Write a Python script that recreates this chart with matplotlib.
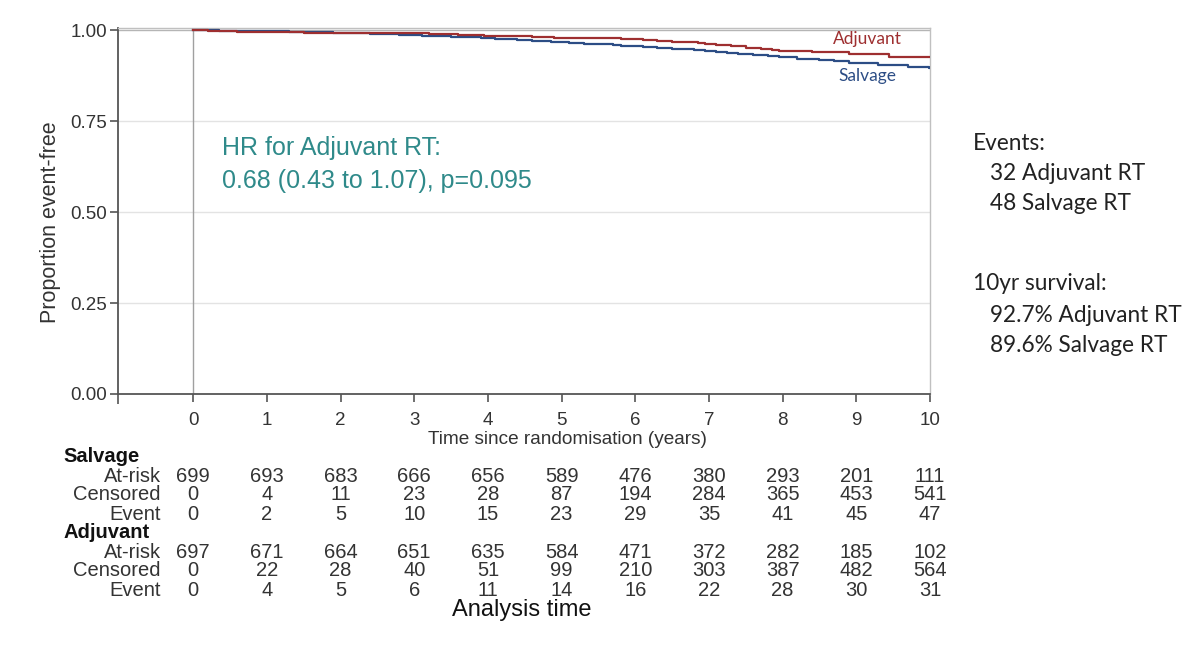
import matplotlib
matplotlib.use("Agg")
import matplotlib.pyplot as plt
from matplotlib.transforms import blended_transform_factory

# ---------------- data ----------------
years = [0, 1, 2, 3, 4, 5, 6, 7, 8, 9, 10]

salv_t = [0, 0.35, 0.8, 1.3, 1.6, 1.9, 2.1, 2.4, 2.6, 2.8, 2.95,
          3.1, 3.3, 3.5, 3.7, 3.9, 4.1, 4.2, 4.4, 4.5, 4.6, 4.75, 4.85, 4.95,
          5.1, 5.3, 5.5, 5.7, 5.8, 5.95, 6.1, 6.3, 6.5, 6.7, 6.8, 6.95,
          7.1, 7.25, 7.4, 7.6, 7.8, 7.95, 8.2, 8.5, 8.7, 8.9, 9.3, 9.7, 9.98, 10.0]
salv_s = [1.0, 0.9986, 0.9971, 0.9957, 0.9943, 0.9928, 0.9913, 0.9899, 0.9884, 0.9870, 0.9855,
          0.9840, 0.9825, 0.9811, 0.9796, 0.9781, 0.9766, 0.9751, 0.9736, 0.9721, 0.9706, 0.9691, 0.9676, 0.9661,
          0.9643, 0.9625, 0.9607, 0.9589, 0.9571, 0.9553, 0.9531, 0.9509, 0.9487, 0.9465, 0.9443, 0.9421,
          0.9393, 0.9365, 0.9337, 0.9309, 0.9281, 0.9253, 0.9215, 0.9177, 0.9139, 0.9101, 0.9045, 0.8990, 0.8960, 0.8960]

adj_t = [0, 0.2, 0.4, 0.6, 0.9, 1.5, 2.5, 3.2, 3.4, 3.6, 3.8, 3.95, 4.3, 4.6, 4.9,
         5.4, 5.8, 6.1, 6.3, 6.5, 6.7, 6.85, 6.95, 7.1, 7.3, 7.5, 7.7, 7.85, 7.95,
         8.4, 8.9, 9.45, 10.0]
adj_s = [1.0, 0.9986, 0.9971, 0.9957, 0.9943, 0.9928, 0.9913, 0.9898, 0.9883, 0.9868, 0.9853, 0.9838,
         0.9822, 0.9806, 0.9790, 0.9772, 0.9753, 0.9729, 0.9705, 0.9681, 0.9657, 0.9633, 0.9609,
         0.9579, 0.9549, 0.9519, 0.9489, 0.9459, 0.9429, 0.9387, 0.9345, 0.9270, 0.9270]

salv_atrisk = [699, 693, 683, 666, 656, 589, 476, 380, 293, 201, 111]
salv_cens = [0, 4, 11, 23, 28, 87, 194, 284, 365, 453, 541]
salv_event = [0, 2, 5, 10, 15, 23, 29, 35, 41, 45, 47]
adj_atrisk = [697, 671, 664, 651, 635, 584, 471, 372, 282, 185, 102]
adj_cens = [0, 22, 28, 40, 51, 99, 210, 303, 387, 482, 564]
adj_event = [0, 4, 5, 6, 11, 14, 16, 22, 28, 30, 31]

yticks = [0.0, 0.25, 0.5, 0.75, 1.0]
ytick_labels = ["0.00", "0.25", "0.50", "0.75", "1.00"]

# ---------------- figure ----------------
W, H = 1200, 646
fig = plt.figure(figsize=(W / 100, H / 100), dpi=100)
fig.patch.set_facecolor("white")
plt.rcParams['font.family'] = ['Liberation Sans', 'DejaVu Sans']

def fx(px):
    return px / W

def fy(py):
    return 1 - py / H

ax = fig.add_axes([fx(118), fy(394), fx(930) - fx(118), fy(28) - fy(394)])
ax.set_xlim(-1.02, 10.0)
ax.set_ylim(0, 1.0055)

RED = "#9e2f30"
BLUE = "#2c4d85"
TEAL = "#2f8a8a"
TXT = "#333333"

for y in [0.25, 0.5, 0.75]:
    ax.axhline(y, color="#e3e3e3", lw=1.0, zorder=0)
ax.axhline(1.0, color="#b5b5b5", lw=1.0, zorder=0)
ax.axvline(0, color="#a0a0a0", lw=1.0, zorder=1)

ax.step(salv_t, salv_s, where="post", color=BLUE, lw=1.6, zorder=3)
ax.step(adj_t, adj_s, where="post", color=RED, lw=1.6, zorder=3)

for s in ["top", "right"]:
    ax.spines[s].set_color("#c0c0c0")
    ax.spines[s].set_linewidth(1.0)
for s in ["left", "bottom"]:
    ax.spines[s].set_color("#555555")
    ax.spines[s].set_linewidth(1.3)

ax.set_xticks(years)
ax.set_xticklabels([str(v) for v in years])
ax.set_xticks([-1.02], minor=True)
ax.set_yticks(yticks)
ax.set_yticklabels(ytick_labels)
ax.tick_params(axis="both", which="both", direction="out", length=6, width=1.2,
               color="#555555", labelcolor=TXT, labelsize=13.5)
ax.tick_params(axis="x", which="minor", length=7)
ax.tick_params(axis="x", pad=7)
ax.tick_params(axis="y", pad=2)

ax.set_ylabel("Proportion event-free", fontsize=15.5, color=TXT)
ax.yaxis.set_label_coords(-0.070, 0.47)
ax.set_xlabel("Time since randomisation (years)", fontsize=13.7, color=TXT)
ax.xaxis.set_label_coords(0.553, -0.101)

# curve labels
ax.text(9.62, 0.975, "Adjuvant", color=RED, fontsize=12.5, family=["Lato", "DejaVu Sans"],
        ha="right", va="center")
ax.text(9.55, 0.873, "Salvage", color=BLUE, fontsize=12.5, family=["Lato", "DejaVu Sans"],
        ha="right", va="center")

# HR annotation
fig.text(fx(222), fy(148), "HR for Adjuvant RT:", color=TEAL, fontsize=18, va="center", ha="left")
fig.text(fx(222), fy(181), "0.68 (0.43 to 1.07), p=0.095", color=TEAL, fontsize=18, va="center", ha="left")

# right annotations
rfam = ["Lato", "DejaVu Sans"]
RS = 16.3
fig.text(fx(973), fy(143), "Events:", fontsize=RS, color="#222222", family=rfam, va="center")
fig.text(fx(990), fy(173), "32 Adjuvant RT", fontsize=RS, color="#222222", family=rfam, va="center")
fig.text(fx(990), fy(204), "48 Salvage RT", fontsize=RS, color="#222222", family=rfam, va="center")
fig.text(fx(973), fy(284), "10yr survival:", fontsize=RS, color="#222222", family=rfam, va="center")
fig.text(fx(990), fy(315), "92.7% Adjuvant RT", fontsize=RS, color="#222222", family=rfam, va="center")
fig.text(fx(990), fy(346), "89.6% Salvage RT", fontsize=RS, color="#222222", family=rfam, va="center")

# risk table
tr = blended_transform_factory(ax.transData, fig.transFigure)
rows = [
    (457, "Salvage", None),
    (476, "At-risk", salv_atrisk),
    (495, "Censored", salv_cens),
    (514, "Event", salv_event),
    (533, "Adjuvant", None),
    (552, "At-risk", adj_atrisk),
    (571, "Censored", adj_cens),
    (590, "Event", adj_event),
]
for py, label, vals in rows:
    if vals is None:
        fig.text(fx(63), fy(py), label, fontsize=14.5, fontweight="bold", color="#111111",
                 ha="left", va="center")
    else:
        fig.text(fx(161), fy(py), label, fontsize=14.5, color=TXT, ha="right", va="center")
        for x, v in zip(years, vals):
            ax.text(x, fy(py), str(v), transform=tr, fontsize=14.5, color=TXT,
                    ha="center", va="center", clip_on=False)

fig.text(fx(522), fy(610), "Analysis time", fontsize=17, color="#111111", ha="center", va="center")

fig.savefig("out.png", dpi=100, facecolor="white")
